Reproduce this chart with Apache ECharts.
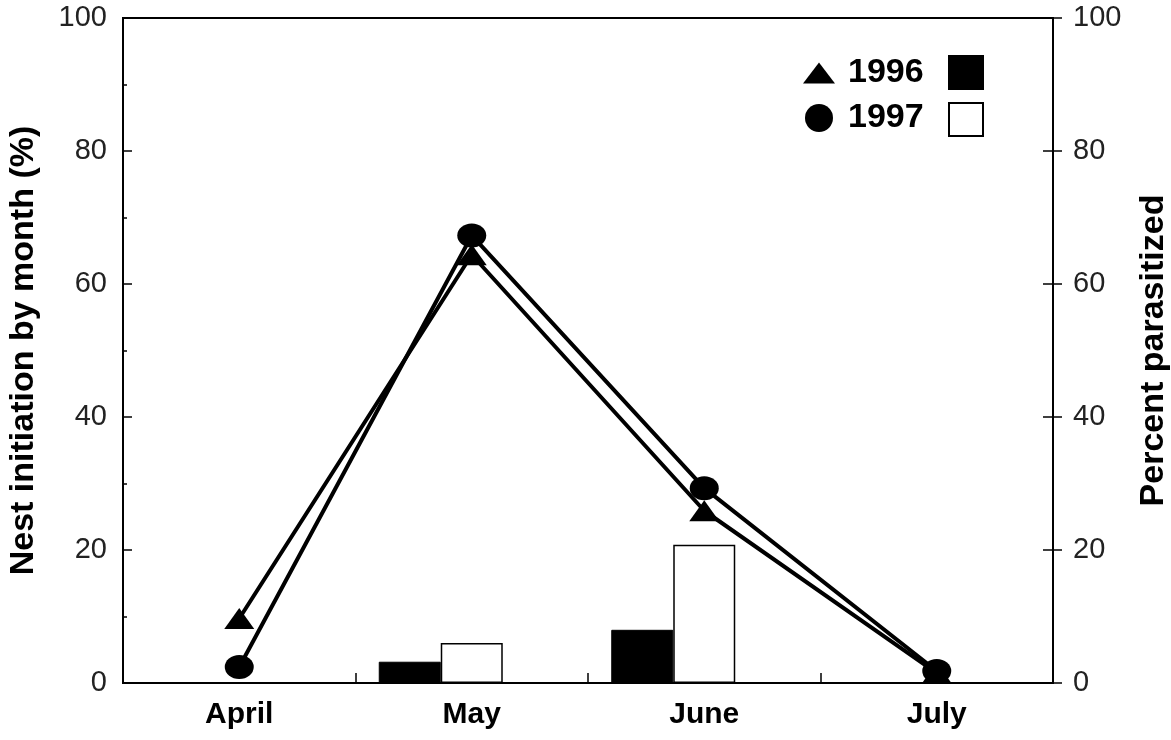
<!DOCTYPE html>
<html>
<head>
<meta charset="utf-8">
<script src="https://cdn.jsdelivr.net/npm/echarts@6/dist/echarts.min.js"></script>
<style>
html,body{margin:0;padding:0;background:#fff;}
#c{width:1171px;height:740px;}
</style>
</head>
<body>
<div id="c"></div>
<script>
const months = ['April', 'May', 'June', 'July'];
const nest1996 = [9.7, 64.4, 25.9, 1.5];
const nest1997 = [2.4, 67.3, 29.3, 1.8];
const para1996 = [0, 3.2, 8.0, 0];
const para1997 = [0, 6.0, 20.8, 0];
const yMin = 0, yMax = 100, yStep = 20;

const FONT = '"Liberation Sans", Arial, sans-serif';
const chart = echarts.init(document.getElementById('c'), null, {renderer: 'canvas'});

const labelStyle = {color: '#222', fontFamily: FONT, fontSize: 29, fontWeight: 'normal'};
const titleStyle = {color: '#000', fontFamily: FONT, fontSize: 34, fontWeight: 'bold'};
const lineAxis = {show: true, lineStyle: {color: '#000', width: 2}};

const option = {
  animation: false,
  backgroundColor: '#fff',
  grid: {left: 123, right: 118, top: 18, bottom: 57, outerBoundsMode: 'none', containLabel: false,
         show: true, borderColor: '#000', borderWidth: 2, backgroundColor: 'transparent'},
  legend: [
    {
      orient: 'vertical', left: 803, top: 56, padding: 0, itemWidth: 32, itemHeight: 28, itemGap: 11,
      selectedMode: false,
      textStyle: {color: '#000', fontFamily: FONT, fontSize: 34, fontWeight: 'bold', lineHeight: 34, padding: [0, 0, 0, 8]},
      data: [
        {name: '1996', icon: 'path://M16,0 L32,21 L0,21 Z'},
        {name: '1997', icon: 'circle'}
      ]
    },
    {
      orient: 'vertical', left: 948, top: 55, padding: 0, itemWidth: 34, itemHeight: 33, itemGap: 12,
      selectedMode: false,
      formatter: function () { return ''; },
      textStyle: {fontSize: 10, lineHeight: 10},
      data: [
        {name: '1996 parasitized', icon: 'rect'},
        {name: '1997 parasitized', icon: 'rect'}
      ]
    }
  ],
  xAxis: {
    type: 'category', data: months, boundaryGap: true,
    axisLine: lineAxis,
    axisTick: {show: true, inside: true, length: 10, interval: 0, lineStyle: {color: '#000', width: 1.5}},
    axisLabel: {color: '#000', fontFamily: FONT, fontSize: 30, fontWeight: 'bold', margin: 17, interval: 0},
    splitLine: {show: false}
  },
  yAxis: [
    {
      type: 'value', position: 'left', min: yMin, max: yMax, interval: yStep,
      name: 'Nest initiation by month (%)', nameLocation: 'middle', nameGap: 82, nameTextStyle: titleStyle,
      axisLine: lineAxis,
      axisTick: {show: true, inside: true, length: 9, lineStyle: {color: '#000', width: 1.5}},
      minorTick: {show: true, splitNumber: 2, length: 4, lineStyle: {color: '#000', width: 1.5}},
      axisLabel: Object.assign({margin: 16}, labelStyle),
      splitLine: {show: false}
    },
    {
      type: 'value', position: 'right', min: yMin, max: yMax, interval: yStep,
      name: 'Percent parasitized', nameLocation: 'middle', nameGap: 84, nameTextStyle: titleStyle,
      axisLine: lineAxis,
      axisTick: {show: true, inside: false, length: 9, lineStyle: {color: '#000', width: 1.5}},
      axisLabel: Object.assign({margin: 20}, labelStyle),
      splitLine: {show: false}
    },
    {
      type: 'value', position: 'right', min: yMin, max: yMax, interval: yStep,
      axisLine: {show: false},
      axisTick: {show: true, inside: true, length: 10, lineStyle: {color: '#000', width: 1.5}},
      axisLabel: {show: false},
      splitLine: {show: false}
    }
  ],
  series: [
    {
      name: '1996 parasitized', type: 'bar', yAxisIndex: 1, data: para1996,
      barWidth: 62, barGap: '0%', z: 2,
      itemStyle: {color: '#000', borderColor: '#000', borderWidth: 1}
    },
    {
      name: '1997 parasitized', type: 'bar', yAxisIndex: 1, data: para1997,
      barWidth: 62, barGap: '0%', z: 2,
      itemStyle: {color: '#fff', borderColor: '#000', borderWidth: 1.5}
    },
    {
      name: 'spacer', type: 'bar', yAxisIndex: 1, data: months.map(function () { return 0; }),
      barWidth: 62, barGap: '0%', silent: true,
      itemStyle: {color: 'rgba(0,0,0,0)'}
    },
    {
      name: '1996', type: 'line', yAxisIndex: 0, data: nest1996, z: 5,
      symbol: 'triangle', symbolSize: [30, 21],
      lineStyle: {color: '#000', width: 4},
      itemStyle: {color: '#000'}
    },
    {
      name: '1997', type: 'line', yAxisIndex: 0, data: nest1997, z: 6,
      symbol: 'circle', symbolSize: [29, 24],
      lineStyle: {color: '#000', width: 4},
      itemStyle: {color: '#000'}
    }
  ]
};
chart.setOption(option);
</script>
</body>
</html>
